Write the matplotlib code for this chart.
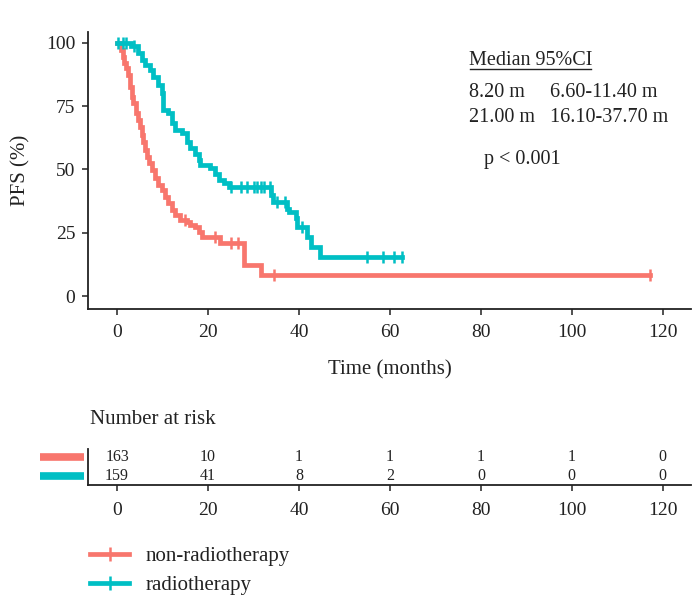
import numpy as np
import matplotlib
matplotlib.use("Agg")
import matplotlib.pyplot as plt
from matplotlib.lines import Line2D
from matplotlib.transforms import IdentityTransform, blended_transform_factory

plt.rcParams['font.family'] = ['Liberation Serif', 'DejaVu Serif']

# -------------------
# Data
# -------------------
groups = ["non-radiotherapy", "radiotherapy"]
colors = ["#F8766D", "#00BFC4"]

# non-radiotherapy: step times (months) and survival (%) after each step
times_nr = [0, 0.8, 1.25, 1.5, 2.0, 2.5, 2.9, 3.2, 3.6, 4.2, 4.7, 5.05, 5.4, 5.8,
            6.2, 6.5, 7.1, 7.6, 8.4, 9.1, 9.8, 10.5, 11.3, 12.0, 12.7, 13.8,
            15.3, 16.0, 17.1, 17.9, 18.6, 22.6, 27.8, 31.6]
surv_nr = [100, 97.1, 94.5, 91.9, 89.9, 87.2, 82.6, 78.7, 76.1, 72.1, 69.5, 66.8,
           63.6, 60.9, 57.6, 55.0, 52.4, 49.7, 46.5, 43.8, 41.8, 39.2, 36.6, 34.0,
           32.0, 30.0, 29.3, 28.0, 27.4, 25.4, 23.4, 20.8, 12.2, 8.3]
end_nr = 117.1
censor_nr = [15.0, 21.5, 25.1, 26.5, 34.5, 117.1]

# radiotherapy
times_rt = [0, 3.0, 4.7, 5.4, 6.2, 7.3, 8.0, 9.1, 9.8, 10.2, 11.3, 12.0, 12.7,
            14.2, 15.3, 16.0, 17.1, 17.9, 18.2, 20.4, 21.5, 22.3, 23.4, 24.5,
            33.8, 34.2, 37.3, 37.8, 39.3, 39.5, 41.8, 42.6, 44.6]
surv_rt = [100, 98.7, 95.8, 93.2, 91.2, 89.2, 86.6, 83.3, 80.0, 73.4, 72.2, 68.3,
           65.5, 64.3, 60.9, 58.3, 56.3, 53.7, 51.7, 50.4, 48.4, 45.8, 44.5, 42.9,
           40.1, 37.2, 34.2, 33.3, 30.7, 27.4, 23.4, 19.5, 15.5]
end_rt = 62.6
censor_rt = [0.2, 1.3, 2.0, 3.8, 25.0, 27.2, 28.6, 30.1, 30.8, 31.6, 32.3, 33.6,
             35.2, 36.9, 40.6, 54.9, 58.5, 60.9, 62.6]

risk_times = [0, 20, 40, 60, 80, 100, 120]
risk_nr = [163, 10, 1, 1, 1, 1, 0]
risk_rt = [159, 41, 8, 2, 0, 0, 0]

median_lines = ["8.20 m", "21.00 m"]
ci_lines = ["6.60-11.40 m", "16.10-37.70 m"]

W, H = 699, 606
fig = plt.figure(figsize=(W / 100, H / 100), dpi=100)


def px_rect(x0, y_top, x1, y_bot):
    return [x0 / W, 1 - y_bot / H, (x1 - x0) / W, (y_bot - y_top) / H]


dark = "#222222"
xlim = (-6.4, 126.2)

# -------------------
# Main KM plot
# -------------------
ax = fig.add_axes(px_rect(88, 31.7, 691, 309))
curves = [(times_nr, surv_nr, end_nr, censor_nr), (times_rt, surv_rt, end_rt, censor_rt)]
for (t, s, t_end, cens), col in zip(curves, colors):
    tt = list(t) + [t_end]
    ss = list(s) + [s[-1]]
    ax.step(tt, ss, where='post', color=col, lw=3.4, solid_joinstyle='miter')
    idx = np.searchsorted(t, cens, side='right') - 1
    ax.plot(cens, np.array(s)[idx], ls='none', marker='|', ms=9, mew=1.8, color=col)

ax.set_xlim(*xlim)
ax.set_ylim(-5.1, 104.4)
ax.set_xticks(risk_times)
ax.set_yticks([0, 25, 50, 75, 100])
ax.spines[['right', 'top']].set_visible(False)
for sp in ['left', 'bottom']:
    ax.spines[sp].set_color(dark)
    ax.spines[sp].set_linewidth(1.3)
ax.tick_params(colors=dark, labelcolor=dark, labelsize=14, length=4, width=1.1)
ax.tick_params(axis='x', pad=7)
ax.tick_params(axis='y', pad=5)
ax.set_xlabel("Time (months)", fontsize=15, color=dark, labelpad=14)
ax.set_ylabel("PFS (%)", fontsize=15, color=dark, labelpad=11)

# Median / CI annotation
ann = dict(fontsize=14.5, color=dark, va='center', ha='left')
title_txt = ax.text(77.4, 93.0, "Median 95%CI", **ann)
for i, (m, c) in enumerate(zip(median_lines, ci_lines)):
    yy = 80.3 - i * 9.8
    ax.text(77.4, yy, m, **ann)
    ax.text(95.2, yy, c, **ann)
ax.text(80.6, 54.1, "p < 0.001", **ann)

# -------------------
# Risk table
# -------------------
rax = fig.add_axes(px_rect(88, 449, 691, 485))
rax.set_xlim(*xlim)
rax.set_ylim(0.53, 2.42)  # rows at y = 2 (non-radio) and y = 1 (radio)
for x, a, b in zip(risk_times, risk_nr, risk_rt):
    rax.text(x, 2, str(a), ha='center', va='center', fontsize=11.5, color=dark)
    rax.text(x, 1, str(b), ha='center', va='center', fontsize=11.5, color=dark)
rax.set_xticks(risk_times)
rax.set_yticks([])
rax.spines[['right', 'top']].set_visible(False)
for sp in ['left', 'bottom']:
    rax.spines[sp].set_color(dark)
    rax.spines[sp].set_linewidth(1.3)
rax.tick_params(colors=dark, labelcolor=dark, labelsize=14, length=4, width=1.1, pad=8)
bt = blended_transform_factory(rax.transAxes, rax.transData)
for yy, col in zip([2, 1], colors):
    rax.plot([-0.08, -0.007], [yy, yy], color=col, lw=5.5, transform=bt,
             clip_on=False, solid_capstyle='butt')

fig.text(90 / W, 1 - 420 / H, "Number at risk", fontsize=15, color=dark,
         ha='left', va='center')

# -------------------
# Legend
# -------------------
handles = [Line2D([], [], color=c, lw=3.4, marker='|', ms=10, mew=1.8) for c in colors]
fig.legend(handles, groups, loc='center left', bbox_to_anchor=(71 / W, 1 - 571 / H),
           frameon=False, fontsize=15, handlelength=1.9, handletextpad=0.8,
           labelspacing=0.45, labelcolor=dark)

# underline the header
fig.canvas.draw()
bb = title_txt.get_window_extent(fig.canvas.get_renderer())
fig.add_artist(Line2D([bb.x0 + 1, bb.x1 - 1], [bb.y0 + 1, bb.y0 + 1], color=dark,
                      lw=1.0, transform=IdentityTransform()))

fig.savefig("out.png", dpi=100)
